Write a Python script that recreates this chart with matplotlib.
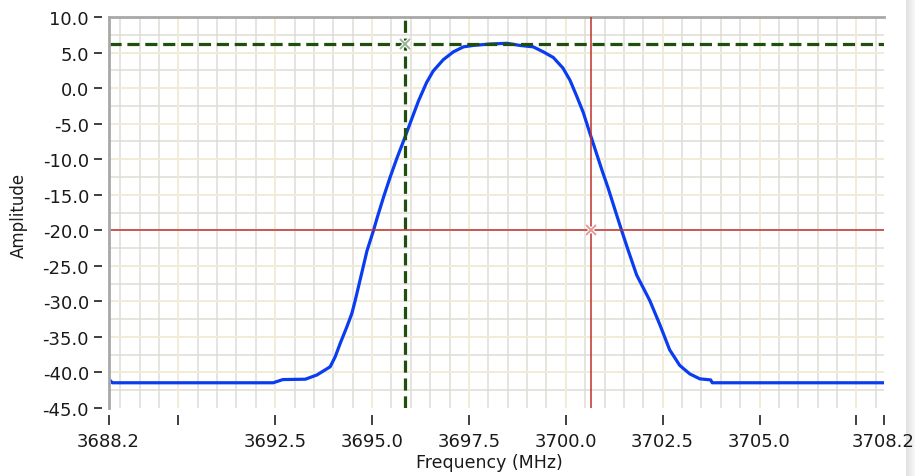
import numpy as np
import matplotlib
matplotlib.use('Agg')
import matplotlib.pyplot as plt
import matplotlib.patheffects as pe

# swept response of the filter (MHz, dB)
freq = [3688.2, 3688.3, 3692.45, 3692.7, 3693.28, 3693.58, 3693.92, 3694.05,
        3694.18, 3694.35, 3694.48, 3694.57, 3694.74, 3694.87, 3695.04, 3695.13,
        3695.30, 3695.47, 3695.64, 3695.81, 3695.98, 3696.20, 3696.41, 3696.58,
        3696.84, 3697.10, 3697.36, 3697.61, 3698.05, 3698.48, 3698.82, 3699.16,
        3699.42, 3699.68, 3699.93, 3700.11, 3700.28, 3700.45, 3700.62, 3700.80,
        3700.95, 3701.09, 3701.27, 3701.44, 3701.61, 3701.83, 3702.17, 3702.43,
        3702.68, 3702.94, 3703.20, 3703.46, 3703.74, 3703.78, 3708.2]
amp = [-40.9, -41.45, -41.45, -41.0, -40.95, -40.35, -39.2, -37.8,
       -35.9, -33.6, -31.7, -29.8, -25.9, -22.9, -20.0, -18.3,
       -15.3, -12.5, -9.9, -7.5, -5.0, -1.8, 0.8, 2.4,
       4.0, 5.1, 5.8, 6.0, 6.2, 6.3, 6.0, 5.8,
       5.1, 4.3, 2.8, 1.1, -1.1, -3.4, -6.3, -9.3,
       -11.8, -14.0, -17.1, -20.0, -22.8, -26.3, -29.9, -33.3,
       -36.8, -39.0, -40.2, -40.9, -41.05, -41.45, -41.45]

# cursors
cur1 = (3695.85, 6.2)
cur2 = (3700.65, -20.0)

xticks = [3688.2, 3690.0, 3692.5, 3695.0, 3697.5, 3700.0, 3702.5, 3705.0, 3707.5, 3708.2]
xlabels = ['3688.2', '', '3692.5', '3695.0', '3697.5', '3700.0', '3702.5', '3705.0', '', '3708.2']
yticks = [-45, -40, -35, -30, -25, -20, -15, -10, -5, 0, 5, 10]

xgrid_major = [3690.0, 3692.5, 3695.0, 3697.5, 3700.0, 3702.5, 3705.0, 3707.5]
xgrid_minor = [v / 2 for v in range(7377, 7417) if v % 5 != 0]
ygrid_major = [-40, -35, -30, -25, -20, -15, -10, -5, 0, 5]
ygrid_minor = [-42.5, -37.5, -32.5, -27.5, -22.5, -17.5, -12.5, -7.5, -2.5, 2.5, 7.5]

fig = plt.figure(figsize=(9.15, 4.77), dpi=100)
fig.patch.set_facecolor('white')

# grey strip at the right border of the panel
strip = fig.add_axes([906 / 915, 0, 9 / 915, 1], zorder=-1)
strip.imshow(np.linspace(0.88, 0.97, 20)[None, :], cmap='gray', vmin=0, vmax=1,
             aspect='auto', extent=[0, 1, 0, 1])
strip.set_axis_off()

ax = fig.add_axes([108.5 / 915, 68 / 477, 775 / 915, 391 / 477])
ax.set_xlim(3688.2, 3708.2)
ax.set_ylim(-45, 10)

ax.vlines(xgrid_minor, -45, 10, color='#dedcd6', lw=1.1, zorder=1)
ax.hlines(ygrid_minor, 3688.2, 3708.2, color='#dedcd6', lw=1.1, zorder=1)
ax.vlines(xgrid_major, -45, 10, color='#f1ecd6', lw=1.4, zorder=1.1)
ax.hlines(ygrid_major, 3688.2, 3708.2, color='#f1ecd6', lw=1.4, zorder=1.1)

ax.plot(freq, amp, color='#0a3cf0', lw=2.3, zorder=3)

# cursor 1 (green, dashed)
ax.axvline(cur1[0], color='#1f4f0c', lw=2.3, dashes=(3.8, 1.8), zorder=4)
ax.axhline(cur1[1], color='#1f4f0c', lw=2.3, dashes=(3.8, 1.8), zorder=4)
ax.plot(*cur1, marker='x', ms=7, mew=1.4, color='#9ab596', zorder=5,
        path_effects=[pe.withStroke(linewidth=3, foreground='white')])

# cursor 2 (red, solid)
ax.axvline(cur2[0], color='#c0302a', lw=1.1, zorder=4)
ax.axhline(cur2[1], color='#c0302a', lw=1.1, zorder=4)
ax.plot(*cur2, marker='x', ms=7, mew=1.4, color='#e59a96', zorder=5,
        path_effects=[pe.withStroke(linewidth=3, foreground='white')])

# frame: grey left/top border only
for s in ['right', 'bottom']:
    ax.spines[s].set_visible(False)
ax.spines['top'].set_color('#a8a8a8')
ax.spines['top'].set_linewidth(2)
ax.spines['left'].set_visible(False)
ax.axvline(3688.2, color='#a8a8a8', lw=2, zorder=6, clip_on=False)
ax.spines['left'].set_position(('outward', 5))
ax.spines['bottom'].set_position(('outward', 5))

ax.set_xticks(xticks)
ax.set_xticklabels(xlabels)
ax.set_yticks(yticks)
ax.set_yticklabels(['%.1f' % v for v in yticks])
ax.tick_params(axis='both', direction='out', color='#202020', width=1.2,
               labelsize=13, labelcolor='#1a1a1a')
ax.tick_params(axis='x', length=7, pad=5)
ax.tick_params(axis='y', length=6, pad=3)

fig.text(489 / 915, 1 - 463 / 477, 'Frequency (MHz)', ha='center', va='center',
         fontsize=12.5, color='#1a1a1a')
fig.text(19 / 915, 1 - 215 / 477, 'Amplitude', ha='center', va='center',
         rotation=90, fontsize=12, color='#1a1a1a')

fig.savefig('out.png', dpi=100)
